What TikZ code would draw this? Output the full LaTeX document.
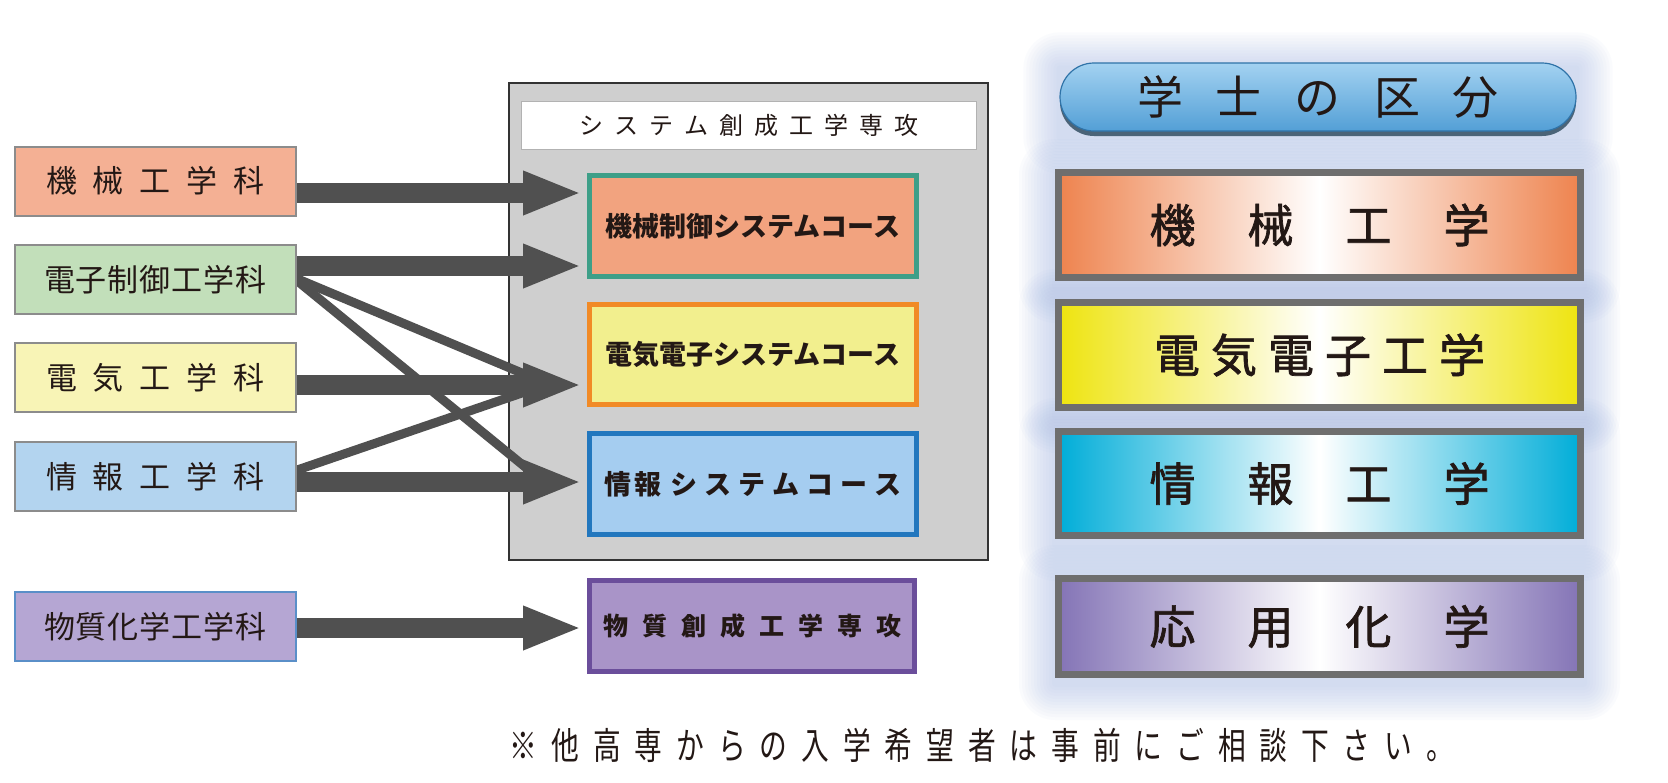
\documentclass[tikz,border=0pt]{standalone}
\usepackage{fontspec}
\setmainfont{Noto Sans CJK JP}
\newfontfamily\jpnarrow[FakeStretch=0.75]{Noto Sans CJK JP}
\newfontfamily\jpmed[FakeBold=1.5]{Noto Sans CJK JP}
\usetikzlibrary{arrows.meta,calc}
\pgfdeclarelayer{background}
\pgfsetlayers{background,main}
\definecolor{ink}{HTML}{231815}
\definecolor{arrowgray}{HTML}{505050}
\definecolor{lborder}{HTML}{8C8C8C}
\definecolor{fmk}{HTML}{F4B094}
\definecolor{fed}{HTML}{C2DFBA}
\definecolor{fdk}{HTML}{F8F4B6}
\definecolor{fjh}{HTML}{B3D4EF}
\definecolor{fbk}{HTML}{B5A6D3}
\definecolor{bbk}{HTML}{5A8FC8}
\definecolor{panelc}{HTML}{CFCFCF}
\definecolor{c1f}{HTML}{F2A37F}
\definecolor{c1b}{HTML}{3E9F88}
\definecolor{c2f}{HTML}{F2EF8E}
\definecolor{c2b}{HTML}{F18A26}
\definecolor{c3f}{HTML}{A5CDF0}
\definecolor{c3b}{HTML}{2277BE}
\definecolor{c4f}{HTML}{A994C8}
\definecolor{c4b}{HTML}{6B4E9B}
\definecolor{bandb}{HTML}{6E6E6E}
\definecolor{b1c}{HTML}{EE834E}
\definecolor{b2c}{HTML}{EEE40F}
\definecolor{b3c}{HTML}{00ADD8}
\definecolor{b4c}{HTML}{8474B6}
\definecolor{glowc}{HTML}{9FB5E3}
\definecolor{pilltop}{HTML}{A3D2F1}
\definecolor{pillbot}{HTML}{539FD6}
\definecolor{pillb}{HTML}{2F73A8}
\definecolor{pillsh}{HTML}{4B6478}
% spread characters with a gap
\newcommand\jspread[2]{\def\jsgap{#1}\jspreadA#2\relax}
\def\jspreadA#1{#1\jspreadB}
\def\jspreadB#1{\ifx\relax#1\else\hspace{\jsgap}#1\expandafter\jspreadB\fi}
\begin{document}
\begin{tikzpicture}[x=1pt,y=-1pt,
  lbox/.style={draw=lborder, line width=2pt, minimum width=281pt, minimum height=69pt,
    inner sep=0pt, text=ink, font=\fontsize{31}{31}\selectfont},
  cbox/.style={line width=5pt, minimum width=327pt, minimum height=101pt,
    inner sep=0pt, text=ink, font=\bfseries\fontsize{27}{27}\selectfont},
  band/.style={draw=bandb, line width=7pt, minimum width=522pt, minimum height=105pt,
    inner sep=0pt, text=ink, font=\jpmed\fontsize{46}{46}\selectfont},
  bigarrow/.style={draw=arrowgray, line width=20pt, -{Triangle[length=59pt,width=40pt]}},
  diag/.style={draw=arrowgray, line width=9pt}
]
\useasboundingbox (0,0) rectangle (1668,782);
\begin{pgfonlayer}{background}
\fill[white] (0,0) rectangle (1668,782);
\end{pgfonlayer}

% ---------- left: departments ----------
\node[lbox, fill=fmk] (mk) at (155.5,181) {\jspread{16pt}{機械工学科}};
\node[lbox, fill=fed] (ed) at (155.5,279.5) {\jspread{1pt}{電子制御工学科}};
\node[lbox, fill=fdk] (dk) at (155.5,377.5) {\jspread{16pt}{電気工学科}};
\node[lbox, fill=fjh] (jh) at (155.5,476.5) {\jspread{16pt}{情報工学科}};
\node[lbox, fill=fbk, draw=bbk] (bk) at (155.5,626.5) {\jspread{1pt}{物質化学工学科}};

% ---------- middle: courses ----------
\node[draw=black!80, line width=2pt, fill=panelc, minimum width=479pt, minimum height=477pt,
  inner sep=0pt] (panel) at (748.5,321.5) {};
\node[draw=black!30, line width=1pt, fill=white, minimum width=455pt, minimum height=48pt,
  inner sep=0pt, text=ink, font=\fontsize{24}{24}\selectfont] (title) at (749,125.5)
  {\jspread{11pt}{システム創成工学専攻}};
\node[cbox, draw=c1b, fill=c1f] (c1) at (753,226) {機械制御システムコース};
\node[cbox, draw=c2b, fill=c2f, minimum height=100pt] (c2) at (753,354.5) {電気電子システムコース};
\node[cbox, draw=c3b, fill=c3f] (c3) at (753,484) {情\hspace{3pt}報\hspace{9pt}\jspread{7pt}{システムコース}};
\node[cbox, draw=c4b, fill=c4f, minimum width=325pt, minimum height=91pt,
  font=\bfseries\fontsize{25}{25}\selectfont] (c4) at (752,626) {\jspread{14pt}{物質創成工学専攻}};

% ---------- right: degree categories ----------
\node[draw=pillb, line width=1.2pt, rounded corners=34pt, top color=pilltop, bottom color=pillbot,
  minimum width=516pt, minimum height=68pt, inner sep=0pt, text=ink,
  font=\fontsize{46}{46}\selectfont,
  preaction={fill=pillsh, transform canvas={yshift=-5pt}}] (pill) at (1318,97)
  {\jspread{33pt}{学士の区分}};
\node[band, left color=b1c, right color=b1c, middle color=white] (b1) at (1319.5,225)
  {\jspread{52pt}{機械工学}};
\node[band, left color=b2c, right color=b2c, middle color=white] (b2) at (1319.5,355)
  {\jspread{11pt}{電気電子工学}};
\node[band, left color=b3c, right color=b3c, middle color=white, minimum height=104pt] (b3) at (1319.5,483.5)
  {\jspread{52pt}{情報工学}};
\node[band, left color=b4c, right color=b4c, middle color=white, minimum height=96pt] (b4) at (1319.5,626.5)
  {\jspread{52pt}{応用化学}};

\begin{pgfonlayer}{background}
\foreach \n in {pill,b1,b2,b3,b4}{
  \foreach \gr in {3,6,...,36}{
    \fill[glowc, opacity=0.045, rounded corners=\gr pt]
      ($(\n.north west)+(-\gr,-\gr+6)$) rectangle ($(\n.south east)+(\gr,\gr+6)$);
  }
}
\end{pgfonlayer}

% ---------- connectors ----------
\coordinate (h2a) at ($(c2.west)+(-52,24)$);
\coordinate (h2b) at ($(c2.west)+(-52,34)$);
\coordinate (h3a) at ($(c3.west)+(-52,-9)$);
\begin{scope}
  \clip (ed.east |- panel.north) rectangle (panel.south);
  \draw[diag] ($(ed.east)+(-10,-5)$) -- (h2a);
  \draw[diag] ($(ed.east)+(-10,-7)$) -- (h3a);
  \draw[diag] ($(jh.east)+(-10,-3)$) -- (h2b);
\end{scope}
\draw[bigarrow] ($(mk.east)+(0,12)$) -- ($(c1.west)+(-5,-33)$);
\draw[bigarrow] ($(ed.east)+(0,-13.5)$) -- ($(c1.west)+(-5,40)$);
\draw[bigarrow] ($(dk.east)+(0,7.5)$) -- ($(c2.west)+(-5,30.5)$);
\draw[bigarrow] ($(jh.east)+(0,5.5)$) -- ($(c3.west)+(-5,-2)$);
\draw[bigarrow] ($(bk.east)+(0,1.5)$) -- ($(c4.west)+(-5,2)$);

% ---------- note ----------
\node[text=ink, inner sep=0pt, font=\jpnarrow\fontsize{37}{37}\selectfont] (note) at (982,745)
  {\jspread{13.9pt}{※他高専からの入学希望者は事前にご相談下さい。}};
\end{tikzpicture}
\end{document}
